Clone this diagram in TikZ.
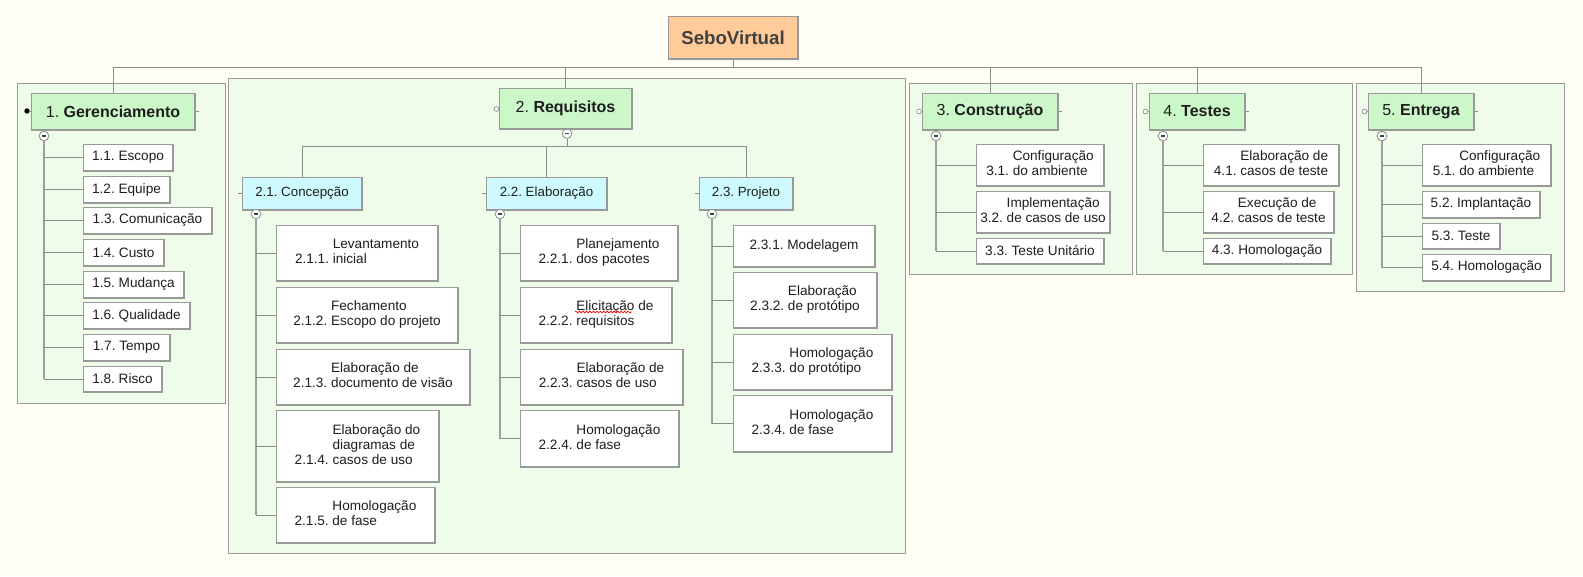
\documentclass[tikz,border=0pt]{standalone}
\usepackage{fontspec}
\setmainfont{Liberation Sans}
\frenchspacing
\usetikzlibrary{decorations.pathmorphing}
\definecolor{bg}{HTML}{FFFFF5}
\definecolor{framefill}{HTML}{F0FCEA}
\definecolor{headfill}{HTML}{CCF7C9}
\definecolor{bluefill}{HTML}{CCFAFF}
\definecolor{rootfill}{HTML}{FFCC99}
\definecolor{linegray}{HTML}{8C8C8C}
\definecolor{trunkgray}{HTML}{A0A0A0}
\definecolor{bordergray}{HTML}{9A9A9A}
\definecolor{edgegray}{HTML}{999999}
\definecolor{rootext}{HTML}{404040}
\definecolor{txt}{HTML}{1E1E1E}
\tikzset{
 x=0.75pt, y=-0.75pt,
 base/.style={draw=bordergray, line width=0.75pt, inner sep=0pt, outer sep=0pt, rectangle, text=txt},
 frame/.style={base, fill=framefill},
 rootbox/.style={base, fill=rootfill, font=\fontsize{14}{16}\selectfont\bfseries, text=rootext},
 headbox/.style={base, fill=headfill, font=\fontsize{12}{14}\selectfont},
 bluebox/.style={base, fill=bluefill, font=\fontsize{10}{12}\selectfont},
 itembox/.style={base, fill=white, font=\fontsize{10.2}{11.25}\selectfont},
 conn/.style={draw=linegray, line width=0.75pt},
 trunk/.style={draw=trunkgray, line width=1.3pt},
 edge3d/.style={draw=edgegray, line width=1pt},
 collapse/.style={circle, draw=linegray, fill=white, line width=0.6pt, minimum size=7.2pt, inner sep=0pt,
   path picture={\draw[line width=0.8pt, black!75] ([xshift=-1.5pt]path picture bounding box.center) -- ([xshift=1.5pt]path picture bounding box.center);}},
 knob/.style={circle, draw=linegray, fill=white, line width=0.5pt, minimum size=3.6pt, inner sep=0pt},
 bulletdot/.style={circle, fill=black, minimum size=4pt, inner sep=0pt},
}
\newcommand\bx[7]{\node[#1, minimum width={(#4-#2)*0.75pt}, minimum height={(#5-#3)*0.75pt}] (#6) at ({(#2+#4)/2},{(#3+#5)/2}) {#7};}
\newcommand\sh[1]{\draw[edge3d] (#1.north east) -- (#1.south east) -- (#1.south west);}
\newcommand\two[3]{\begin{tabular}{@{}l@{\ }l@{}}&#2\\#1&#3\end{tabular}}
\newcommand\three[4]{\begin{tabular}{@{}l@{\ }l@{}}&#2\\&#3\\#1&#4\end{tabular}}
\begin{document}
\begin{tikzpicture}
\fill[bg] (0,0) rectangle (1583,576);
\useasboundingbox (0,0) rectangle (1583,576);
% frames
\bx{frame}{17}{83}{225}{403}{f1}{}
\bx{frame}{228}{78}{905}{553}{f2}{}
\bx{frame}{909}{83}{1132}{274}{f3}{}
\bx{frame}{1136}{83}{1352}{274}{f4}{}
\bx{frame}{1356}{83}{1564}{291}{f5}{}
% root
\bx{rootbox}{668}{16}{798}{59}{root}{SeboVirtual}
% headings
\bx{headbox}{31}{93}{195}{130}{g1}{1. \textbf{Gerenciamento}}
\bx{headbox}{499}{88}{632}{129}{g2}{2. \textbf{Requisitos}}
\bx{headbox}{922}{93}{1058}{130}{g3}{3. \textbf{Construção}}
\bx{headbox}{1149}{93}{1245}{130}{g4}{4. \textbf{Testes}}
\bx{headbox}{1368}{93}{1474}{130}{g5}{5. \textbf{Entrega}}
% bus
\coordinate (bus) at (0,67);
\foreach \g in {g1,g2,g3,g4,g5}{
  \draw[conn] (\g.north) -- (\g.north |- bus) -| (root.south);
}
% heading decorations
\node[bulletdot] (g1b) at (27,111) {};
\draw[conn] (g1b) -- (g1.west);
\node[knob] (g2k) at (496.5,109) {};
\node[knob] (g3k) at (919,111.5) {};
\node[knob] (g4k) at (1145.5,111.5) {};
\node[knob] (g5k) at (1364.5,111.5) {};
\foreach \g in {g2,g3,g4,g5}{ \draw[conn] (\g k.east) -- (\g.west |- \g k.east); }
\foreach \g in {g1,g3,g4,g5}{ \draw[conn] (\g.east) -- ++(4,0); }
% collapse circles of headings
\node[collapse] (g1c) at (44,136) {};
\node[collapse] (g2c) at (567,133.5) {};
\node[collapse] (g3c) at (936,136) {};
\node[collapse] (g4c) at (1163,136) {};
\node[collapse] (g5c) at (1382,136) {};
% section 1 items
\bx{itembox}{83}{144}{173}{171}{i11}{1.1. Escopo}
\bx{itembox}{83}{176}{170}{203}{i12}{1.2. Equipe}
\bx{itembox}{83}{207}{212}{234}{i13}{1.3. Comunicação}
\bx{itembox}{83}{239}{164}{266}{i14}{1.4. Custo}
\bx{itembox}{83}{271}{184}{298}{i15}{1.5. Mudança}
\bx{itembox}{83}{302}{190}{329}{i16}{1.6. Qualidade}
\bx{itembox}{83}{334}{170}{361}{i17}{1.7. Tempo}
\bx{itembox}{83}{366}{162}{392}{i18}{1.8. Risco}
\draw[trunk] (g1c.south) -- (g1c.south |- i18.west);
\foreach \i in {11,12,13,14,15,16,17,18}{ \draw[conn] (g1c |- i\i.west) -- (i\i.west); \sh{i\i} }
% section 2
\bx{bluebox}{242}{177}{362}{210}{b21}{2.1. Concepção}
\bx{bluebox}{486}{177}{607}{210}{b22}{2.2. Elaboração}
\bx{bluebox}{699}{177}{793}{210}{b23}{2.3. Projeto}
\coordinate (sub) at (0,146);
\draw[conn] (g2c.south) -- (g2c.south |- sub);
\foreach \b in {b21,b22,b23}{
  \draw[conn] (\b.north) -- (\b.north |- sub) -| (g2c.south);
  \draw[conn] (\b.west) -- ++(-4,0);
  \sh{\b}
}
\foreach \g in {g1,g2,g3,g4,g5,root}{ \sh{\g} }
\node[collapse] (b21c) at (256,214) {};
\node[collapse] (b22c) at (500,214) {};
\node[collapse] (b23c) at (712,214) {};
\bx{itembox}{276}{225}{438}{281}{i211}{\two{2.1.1.}{Levantamento}{inicial}}
\bx{itembox}{276}{287}{458}{343}{i212}{\two{2.1.2.}{Fechamento}{Escopo do projeto}}
\bx{itembox}{276}{349}{470}{405}{i213}{\two{2.1.3.}{Elaboração de}{documento de visão}}
\bx{itembox}{276}{410}{439}{482}{i214}{\three{2.1.4.}{Elaboração do}{diagramas de}{casos de uso}}
\bx{itembox}{276}{487}{435}{543}{i215}{\two{2.1.5.}{Homologação}{de fase}}
\draw[trunk] (b21c.south) -- (b21c.south |- i215.west);
\foreach \i in {211,212,213,214,215}{ \draw[conn] (b21c |- i\i.west) -- (i\i.west); \sh{i\i} }
\bx{itembox}{520}{225}{678}{281}{i221}{\two{2.2.1.}{Planejamento}{dos pacotes}}
\bx{itembox}{520}{287}{672}{343}{i222}{\two{2.2.2.}{Elicitação de}{requisitos}}
\bx{itembox}{520}{349}{683}{405}{i223}{\two{2.2.3.}{Elaboração de}{casos de uso}}
\bx{itembox}{520}{410}{679}{467}{i224}{\two{2.2.4.}{Homologação}{de fase}}
\draw[trunk] (b22c.south) -- (b22c.south |- i224.west);
\foreach \i in {221,222,223,224}{ \draw[conn] (b22c |- i\i.west) -- (i\i.west); \sh{i\i} }
\draw[red, line width=0.5pt, decorate, decoration={snake, amplitude=0.7pt, segment length=2.6pt}] (575,312) -- (632,312);
\bx{itembox}{733}{225}{875}{267}{i231}{2.3.1. Modelagem}
\bx{itembox}{733}{272}{877}{328}{i232}{\two{2.3.2.}{Elaboração}{de protótipo}}
\bx{itembox}{733}{334}{892}{390}{i233}{\two{2.3.3.}{Homologação}{do protótipo}}
\bx{itembox}{733}{395}{892}{452}{i234}{\two{2.3.4.}{Homologação}{de fase}}
\draw[trunk] (b23c.south) -- (b23c.south |- i234.west);
\foreach \i in {231,232,233,234}{ \draw[conn] (b23c |- i\i.west) -- (i\i.west); \sh{i\i} }
% section 3
\bx{itembox}{976}{144}{1104}{186}{i31}{\two{3.1.}{Configuração}{do ambiente}}
\bx{itembox}{976}{191}{1110}{233}{i32}{\two{3.2.}{Implementação}{de casos de uso}}
\bx{itembox}{976}{238}{1104}{264}{i33}{3.3. Teste Unitário}
\draw[trunk] (g3c.south) -- (g3c.south |- i33.west);
\foreach \i in {31,32,33}{ \draw[conn] (g3c |- i\i.west) -- (i\i.west); \sh{i\i} }
% section 4
\bx{itembox}{1203}{144}{1339}{186}{i41}{\two{4.1.}{Elaboração de}{casos de teste}}
\bx{itembox}{1203}{191}{1334}{233}{i42}{\two{4.2.}{Execução de}{casos de teste}}
\bx{itembox}{1203}{238}{1331}{264}{i43}{4.3. Homologação}
\draw[trunk] (g4c.south) -- (g4c.south |- i43.west);
\foreach \i in {41,42,43}{ \draw[conn] (g4c |- i\i.west) -- (i\i.west); \sh{i\i} }
% section 5
\bx{itembox}{1422}{144}{1551}{186}{i51}{\two{5.1.}{Configuração}{do ambiente}}
\bx{itembox}{1422}{191}{1540}{218}{i52}{5.2. Implantação}
\bx{itembox}{1422}{223}{1500}{249}{i53}{5.3. Teste}
\bx{itembox}{1422}{254}{1551}{281}{i54}{5.4. Homologação}
\draw[trunk] (g5c.south) -- (g5c.south |- i54.west);
\foreach \i in {51,52,53,54}{ \draw[conn] (g5c |- i\i.west) -- (i\i.west); \sh{i\i} }
\end{tikzpicture}
\end{document}
